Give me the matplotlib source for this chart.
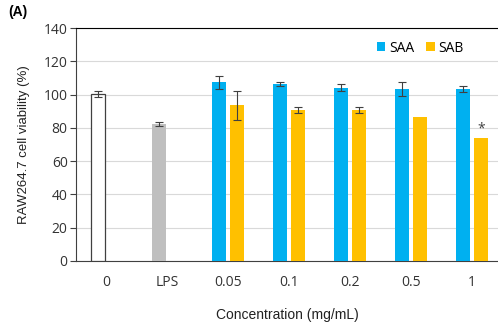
import matplotlib.pyplot as plt
import numpy as np

plt.rcParams['font.family'] = ['Open Sans', 'DejaVu Sans']

# Data
categories = ['0', 'LPS', '0.05', '0.1', '0.2', '0.5', '1']
control_vals = [100.2, 82.5]
control_err = [1.7, 1.2]
saa_vals = [107.4, 106.2, 104.2, 103.4, 103.4]
saa_err = [3.9, 1.3, 2.2, 4.4, 1.9]
sab_vals = [93.6, 90.7, 90.7, 86.5, 73.7]
sab_err = [8.7, 2.0, 1.6, 0.0, 0.0]

fig = plt.figure(figsize=(4.98, 3.23), dpi=100)
ax = fig.add_axes([0.1526, 0.192, 0.85, 0.721])

x = np.arange(len(categories))
w = 0.23
off = 0.145
err_kw = dict(ecolor='#404040', elinewidth=0.8, capsize=3, capthick=0.8)

# control and LPS bars sit in the left slot of their group
ax.bar(x[0] - off, control_vals[0], w, yerr=control_err[0], color='white',
       edgecolor='#404040', linewidth=0.9, error_kw=err_kw, zorder=3)
ax.bar(x[1] - off, control_vals[1], w, yerr=control_err[1], color='#BFBFBF',
       error_kw=err_kw, zorder=3)

ax.bar(x[2:] - off, saa_vals, w, yerr=saa_err, color='#00B0F0',
       error_kw=err_kw, zorder=3, label='SAA')
sab_yerr = [e if e > 0 else np.nan for e in sab_err]
ax.bar(x[2:] + off, sab_vals, w, yerr=sab_yerr, color='#FFC000',
       error_kw=err_kw, zorder=3, label='SAB')

# significance mark
ax.text(x[6] + off, sab_vals[4] + 1, '*', ha='center', va='bottom',
        fontsize=10, color='#404040')

ax.set_xlim(-0.5, 6.45)
ax.set_ylim(0, 140)
ax.set_yticks(np.arange(0, 141, 20))
ax.set_xticks(x)
ax.set_xticklabels(categories)
ax.tick_params(axis='x', length=0, labelsize=10, colors='#333333', pad=10)
ax.tick_params(axis='y', length=4, width=0.8, color='#404040',
               labelsize=10, labelcolor='#333333', pad=2)
ax.grid(axis='y', color='#D9D9D9', linewidth=0.8, zorder=0)

ax.spines['right'].set_visible(False)
ax.spines['top'].set_color('black')
ax.spines['left'].set_color('#404040')
ax.spines['bottom'].set_color('#404040')

ax.set_ylabel('RAW264.7 cell viability (%)', fontsize=9.5, color='#222222',
              labelpad=10, family=['Liberation Sans', 'DejaVu Sans'])
ax.set_xlabel('Concentration (mg/mL)', fontsize=10, color='#222222',
              labelpad=13, family=['Liberation Sans', 'DejaVu Sans'])

ax.legend(loc='upper right', bbox_to_anchor=(0.945, 1.0), ncol=2, frameon=False,
          fontsize=10, handlelength=0.6, handleheight=0.6, handletextpad=0.25,
          columnspacing=0.9)

fig.text(0.016, 0.962, '(A)', fontsize=10, fontweight='bold', va='center',
         family=['Liberation Sans', 'DejaVu Sans'])

fig.savefig('out.png', dpi=100)
